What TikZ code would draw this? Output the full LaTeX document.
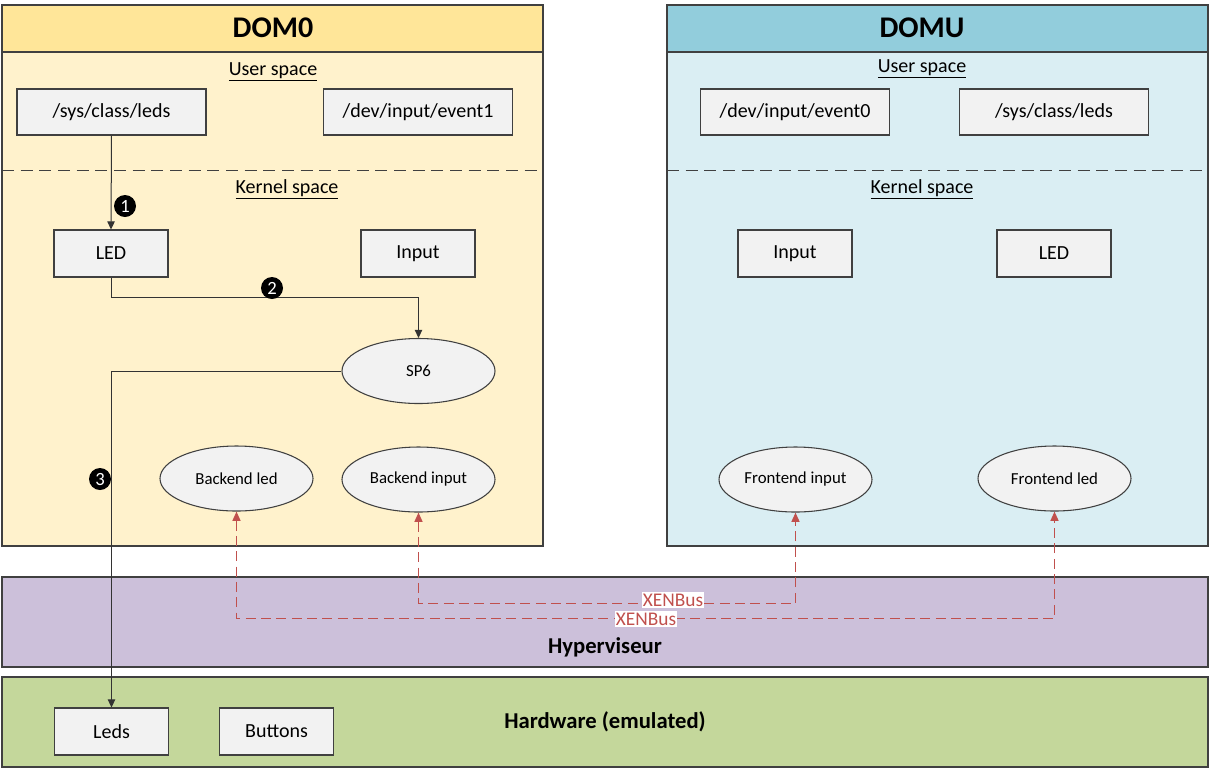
\documentclass[tikz,border=0pt]{standalone}
\usepackage{fontspec}
\setmainfont{Carlito}
\usetikzlibrary{arrows.meta,shapes.geometric}

\definecolor{dzerohead}{HTML}{FFE699}
\definecolor{dzerobody}{HTML}{FFF2CC}
\definecolor{duhead}{HTML}{92CDDC}
\definecolor{dubody}{HTML}{DAEEF3}
\definecolor{hypfill}{HTML}{CCC0DA}
\definecolor{hwfill}{HTML}{C4D79B}
\definecolor{boxfill}{HTML}{F2F2F2}
\definecolor{boxline}{HTML}{404040}
\definecolor{xenred}{HTML}{C0504D}

\begin{document}
\begin{tikzpicture}[x=0.75pt, y=-0.75pt,
  panel/.style={draw=boxline, line width=1pt},
  box/.style={draw=boxline, fill=boxfill, line width=0.8pt, inner sep=0pt,
    font=\fontsize{15}{18}\selectfont},
  userbox/.style={box, minimum width=141.75pt, minimum height=34.5pt},
  kernbox/.style={box, minimum width=85.5pt, minimum height=35.25pt},
  drv/.style={ellipse, draw=boxline, fill=boxfill, line width=0.8pt, inner sep=0pt,
    minimum width=114.75pt, minimum height=48.75pt, font=\fontsize{12.6}{15}\selectfont},
  title/.style={font=\fontsize{22.5}{26}\selectfont\bfseries},
  space/.style={font=\fontsize{15}{18}\selectfont},
  band/.style={font=\fontsize{17}{20}\selectfont\bfseries},
  num/.style={circle, fill=black, text=white, inner sep=0pt, minimum size=16.5pt,
    font=\fontsize{14}{16}\selectfont},
  sep/.style={boxline, line width=0.75pt, dash pattern=on 9pt off 5pt},
  flow/.style={draw=black!80, line width=0.75pt, -{Triangle[length=6pt, width=5.5pt]}},
  xen/.style={draw=xenred, line width=1.1pt, dash pattern=on 7.5pt off 4pt,
    {Triangle[length=7pt, width=6pt]}-{Triangle[length=7pt, width=6pt]}},
  xenlabel/.style={fill=white, text=xenred, inner sep=1pt, font=\fontsize{14.5}{17}\selectfont}]

\def \ytop     {5}
\def \yhead    {52}
\def \ysplit   {170}
\def \ybot     {546}

\useasboundingbox (0,0) rectangle (1210,769);

% DOM0 panel
\filldraw[panel, fill=dzerobody] (2,\ytop) rectangle (543,\ybot);
\filldraw[panel, fill=dzerohead] (2,\ytop) rectangle (543,\yhead);
\draw[sep] (2,\ysplit) -- (543,\ysplit);
\node[title] (dzero) at (273,28) {DOM0};
\node[space] (dzerouser) at (273,72) {\underline{User space}};
\node[space] (dzerokern) at (287,189) {\underline{Kernel space}};

% DOMU panel
\filldraw[panel, fill=dubody] (667,\ytop) rectangle (1208,\ybot);
\filldraw[panel, fill=duhead] (667,\ytop) rectangle (1208,\yhead);
\draw[sep] (667,\ysplit) -- (1208,\ysplit);
\node[title] (domu) at (922,28) {DOMU};
\node[space] (domuuser) at (922,69) {\underline{User space}};
\node[space] (domukern) at (922,189) {\underline{Kernel space}};

% hypervisor and hardware
\filldraw[panel, fill=hypfill] (2,577) rectangle (1208,667);
\node[band] (hyp) at (605,647) {Hyperviseur};
\filldraw[panel, fill=hwfill] (2,677) rectangle (1208,767);
\node[band] (hw) at (605,722) {Hardware (emulated)};

% DOM0 nodes
\node[userbox] (sysleds) at (111.5,112) {/sys/class/leds};
\node[userbox] (eventone) at (418,112) {/dev/input/event1};
\node[kernbox] (led) at (111,253.5) {LED};
\node[kernbox] (input) at (418,253.5) {Input};
\node[drv] (sp) at (418.5,371) {SP6};
\node[drv] (bled) at (236.5,478.5) {Backend led};
\node[drv] (binput) at (418.5,479.5) {Backend input};

% DOMU nodes
\node[userbox] (eventzero) at (795,112) {/dev/input/event0};
\node[userbox] (usysleds) at (1054,112) {/sys/class/leds};
\node[kernbox] (uinput) at (795,253.5) {Input};
\node[kernbox] (uled) at (1054,253.5) {LED};
\node[drv] (finput) at (795.5,479.5) {Frontend input};
\node[drv] (fled) at (1054.5,478.5) {Frontend led};

% hardware nodes
\node[kernbox] (leds) at (111.5,731.5) {Leds};
\node[kernbox] (buttons) at (276.5,731.5) {Buttons};

% led path
\draw[flow] (sysleds.south) -- (led.north);
\draw[flow] (led.south) -- ++(0,20) -| (sp.north);
\draw[flow] (sp.west) -| (leds.north);
\node[num] (one) at (125,206) {1};
\node[num] (two) at (272,288) {2};
\node[num] (three) at (100,479) {3};

% xenbus
\draw[xen] (binput.south) -- ++(0,91) -| (finput.south);
\draw[xen] (bled.south) -- ++(0,107) -| (fled.south);
\node[xenlabel] (xena) at (673,600) {XENBus};
\node[xenlabel] (xenb) at (646,619) {XENBus};

\end{tikzpicture}
\end{document}
